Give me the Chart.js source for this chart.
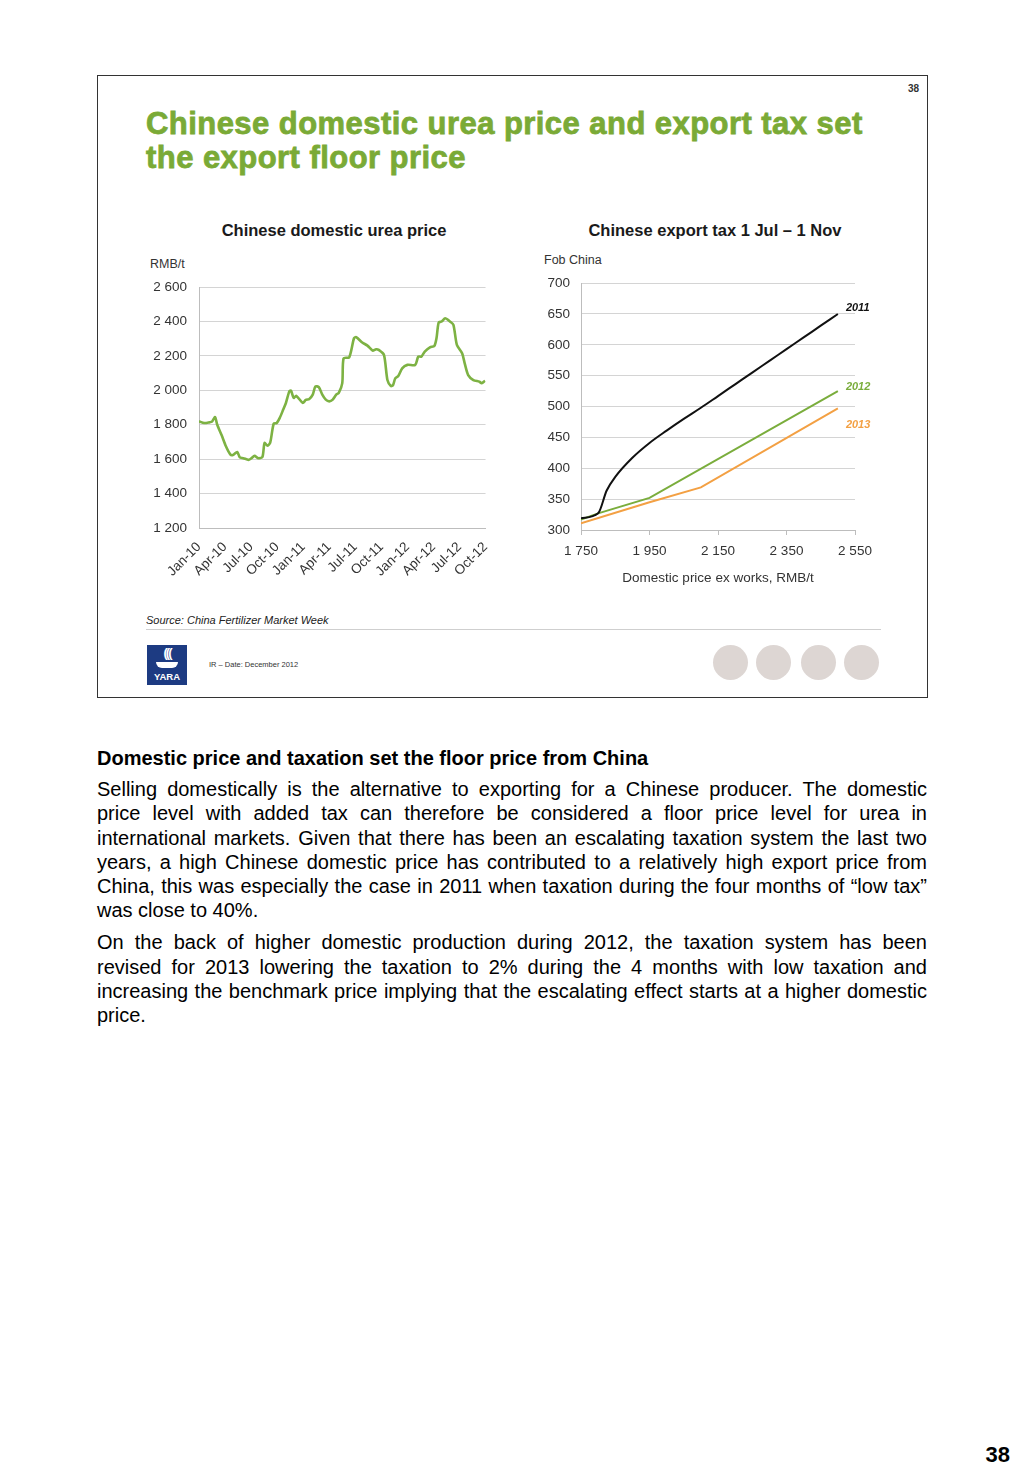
<!DOCTYPE html>
<html lang="en">
<head>
<meta charset="UTF-8">
<title>Chinese domestic urea price and export tax</title>
<script src="https://cdn.jsdelivr.net/npm/chart.js@4.4.1/dist/chart.umd.min.js"></script>
<style>
    body {
        margin: 0;
        width: 1024px;
        height: 1477px;
        position: relative;
        background: #fff;
        font-family: "Liberation Sans", Arial, sans-serif;
        color: #000;
    }
    .slide {
        position: absolute;
        left: 97px;
        top: 75px;
        width: 829px;
        height: 621px;
        border: 1.5px solid #333;
    }
    .abs { position: absolute; white-space: nowrap; }
    .slide-title {
        left: 48px; top: 31px;
        font-size: 31px; font-weight: bold; color: #7aaa36;
        line-height: 34px;
        letter-spacing: 0.45px;
        -webkit-text-stroke: 0.8px #7aaa36;
    }
    .chart-title { font-size: 16.5px; font-weight: bold; color: #1a1a1a; transform: translateX(-50%); }
    .unit { font-size: 12.5px; color: #333; }
    canvas { position: absolute; }
    .source { left: 48px; top: 538px; font-size: 11px; font-style: italic; color: #222; }
    .rule { position: absolute; left: 48px; top: 553px; width: 735px; height: 1px; background: #cfcfcf; }
    .logo { position: absolute; left: 49px; top: 569px; width: 40px; height: 40px; background: #1d3b82; }
    .logo .waves { position: absolute; left: 0; top: 0; width: 40px; text-align: center; color: #fff; font-weight: bold; font-size: 13px; letter-spacing: -2px; }
    .logo .ship { position: absolute; left: 9px; top: 17px; width: 22px; height: 6px; background: #fff; border-radius: 0 0 6px 6px; }
    .logo .name { position: absolute; left: 0; top: 26px; width: 40px; text-align: center; color: #fff; font-weight: bold; font-size: 9.5px; }
    .date { left: 111px; top: 584px; font-size: 7.5px; color: #333; }
    .dot { position: absolute; width: 35px; height: 35px; border-radius: 50%; background: #ddd6d3; top: 569px; }
    .text-block {
        position: absolute; left: 97px; top: 746px; width: 830px;
        font-size: 20px; line-height: 24.2px;
    }
    .text-block h4 { margin: 0 0 7px 0; font-size: 20px; }
    .text-block p { margin: 0 0 8px 0; }
    .text-block .ln { display: block; white-space: nowrap; text-align: justify; text-align-last: justify; }
    .text-block .ln.end { text-align-last: left; }
    .page-no { right: 14px; top: 1442px; font-size: 22px; font-weight: bold; }
</style>
</head>
<body>
<div class="slide">
    <div class="abs" style="right:8px;top:7px;font-size:10px;font-weight:bold;color:#333;">38</div>
    <div class="abs slide-title">Chinese domestic urea price and export tax set<br>the export floor price</div>
    <div class="abs chart-title" style="left:236px;top:145px;">Chinese domestic urea price</div>
    <div class="abs chart-title" style="left:617px;top:145px;">Chinese export tax 1 Jul – 1 Nov</div>
    <div class="abs unit" style="left:52px;top:181px;">RMB/t</div>
    <div class="abs unit" style="left:446px;top:177px;">Fob China</div>
    <div class="abs source">Source: China Fertilizer Market Week</div>
    <div class="rule"></div>
    <div class="logo"><div class="waves">(((</div><div class="ship"></div><div class="name">YARA</div></div>
    <div class="abs date">IR – Date: December 2012</div>
    <div class="dot" style="left:615px;"></div>
    <div class="dot" style="left:658px;"></div>
    <div class="dot" style="left:703px;"></div>
    <div class="dot" style="left:746px;"></div>
</div>

<canvas id="ureaChart" width="360" height="323" style="left:140px;top:267px;width:360px;height:323px;"></canvas>
<canvas id="taxChart" width="355" height="326" style="left:530px;top:264px;width:355px;height:326px;"></canvas>

<div class="text-block">
    <h4>Domestic price and taxation set the floor price from China</h4>
    <p>
        <span class="ln">Selling domestically is the alternative to exporting for a Chinese producer. The domestic</span>
        <span class="ln">price level with added tax can therefore be considered a floor price level for urea in</span>
        <span class="ln">international markets. Given that there has been an escalating taxation system the last two</span>
        <span class="ln">years, a high Chinese domestic price has contributed to a relatively high export price from</span>
        <span class="ln">China, this was especially the case in 2011 when taxation during the four months of “low tax”</span>
        <span class="ln end">was close to 40%.</span>
    </p>
    <p>
        <span class="ln">On the back of higher domestic production during 2012, the taxation system has been</span>
        <span class="ln">revised for 2013 lowering the taxation to 2% during the 4 months with low taxation and</span>
        <span class="ln">increasing the benchmark price implying that the escalating effect starts at a higher domestic</span>
        <span class="ln end">price.</span>
    </p>
</div>
<div class="abs page-no">38</div>

<script>
    // left chart: months since Jan-10 and price RMB/t
    const monthLabels = ['Jan-10', 'Apr-10', 'Jul-10', 'Oct-10', 'Jan-11', 'Apr-11', 'Jul-11', 'Oct-11', 'Jan-12', 'Apr-12', 'Jul-12', 'Oct-12'];
    const ureaMonths = [0, 0.6, 1.2, 1.5, 1.85, 2.1, 2.6, 3.1, 3.6, 3.9, 4.4, 4.7, 5.1, 5.7, 6.0, 6.4, 6.8, 7.3, 7.55, 7.9,
        8.2, 8.6, 8.95, 9.3, 9.7, 10.0, 10.4, 10.6, 10.9, 11.2, 11.95, 12.3, 12.7, 13.1, 13.4, 13.8, 14.2, 14.6, 15.0, 15.4,
        15.8, 16.1, 16.5, 16.65, 17.3, 17.85, 18.1, 18.8, 19.4, 20.0, 20.4, 20.7, 21.3, 21.7, 22.1, 22.35, 22.6, 22.95, 23.4, 24.0,
        24.9, 25.25, 25.6, 26.0, 26.6, 27.1, 27.35, 27.6, 27.95, 28.35, 28.9, 29.3, 29.7, 30.3, 30.6, 31.0, 31.6, 32.3, 32.55, 32.95];
    const ureaPrice = [1820, 1810, 1814, 1818, 1845, 1800, 1740, 1675, 1628, 1624, 1642, 1610, 1606, 1596, 1604, 1619, 1606, 1612, 1694, 1678,
        1696, 1806, 1810, 1840, 1888, 1925, 1994, 1998, 1956, 1968, 1927, 1944, 1950, 1975, 2022, 2019, 1975, 1946, 1936, 1946,
        1975, 1985, 2042, 2186, 2192, 2303, 2309, 2278, 2260, 2231, 2239, 2235, 2206, 2060, 2025, 2031, 2070, 2083, 2128, 2148,
        2148, 2196, 2196, 2225, 2250, 2258, 2303, 2394, 2400, 2419, 2400, 2381, 2264, 2216, 2157, 2089, 2060, 2050, 2041, 2056];

    // right chart: domestic price ex works vs fob China
    const tax2011Domestic = [1750, 1800, 1825, 1850, 1900, 1950, 2000, 2050, 2100, 2150, 2200, 2250, 2300, 2350, 2400, 2450, 2500];
    const tax2011Fob = [319, 327, 364, 386, 417, 441, 461, 480, 498, 517, 536, 555, 574, 593, 612, 631, 650];
    const tax2012Domestic = [1750, 1800, 1950, 2500];
    const tax2012Fob = [317, 327, 352, 525];
    const tax2013Domestic = [1750, 1950, 2100, 2500];
    const tax2013Fob = [311, 345, 369, 497];
    const seriesNames = ['2011', '2012', '2013'];
    const seriesColors = ['#111111', '#7aad3c', '#f3a043'];
    const labelOffsets = [-6, -4, 17];

    const fontFamily = '"Liberation Sans", Arial, sans-serif';
    const tickFont = { family: fontFamily, size: 13.5 };
    const spaced = v => String(v).replace(/\B(?=(\d{3})+(?!\d))/g, ' ');
    const toPoints = (xs, ys) => xs.map((x, i) => ({ x: x, y: ys[i] }));

    new Chart(document.getElementById('ureaChart'), {
        type: 'line',
        data: {
            datasets: [{
                data: toPoints(ureaMonths, ureaPrice),
                borderColor: '#7db243',
                borderWidth: 2.6,
                pointRadius: 0,
                tension: 0.25
            }]
        },
        options: {
            responsive: false,
            animation: false,
            layout: { padding: { top: 2, right: 3 } },
            plugins: { legend: { display: false }, tooltip: { enabled: false } },
            scales: {
                x: {
                    type: 'linear', min: 0, max: 33,
                    afterBuildTicks: s => { s.ticks = monthLabels.map((l, i) => ({ value: i * 3 })); },
                    afterFit: s => { s.height = 62; },
                    grid: { display: false },
                    border: { color: '#bdbdbd' },
                    ticks: {
                        font: tickFont, color: '#333', maxRotation: 45, minRotation: 45, padding: 3, autoSkip: false,
                        callback: v => monthLabels[Math.round(v / 3)]
                    }
                },
                y: {
                    min: 1200, max: 2600,
                    afterFit: s => { s.width = 59; },
                    grid: { color: '#d4d4d4', drawTicks: false },
                    border: { color: '#bdbdbd' },
                    ticks: { stepSize: 200, font: tickFont, color: '#333', padding: 12, callback: v => spaced(v) }
                }
            }
        }
    });

    const endLabels = {
        id: 'endLabels',
        afterDatasetsDraw(chart) {
            const ctx = chart.ctx;
            ctx.save();
            ctx.font = 'italic bold 11px ' + fontFamily;
            ctx.textBaseline = 'middle';
            chart.data.datasets.forEach((ds, i) => {
                const last = ds.data[ds.data.length - 1];
                const x = chart.scales.x.getPixelForValue(last.x);
                const y = chart.scales.y.getPixelForValue(last.y);
                ctx.fillStyle = seriesColors[i];
                ctx.fillText(seriesNames[i], x + 8, y + labelOffsets[i]);
            });
            ctx.restore();
        }
    };

    new Chart(document.getElementById('taxChart'), {
        type: 'line',
        data: {
            datasets: [
                { label: seriesNames[0], data: toPoints(tax2011Domestic, tax2011Fob), borderColor: seriesColors[0], borderWidth: 2, pointRadius: 0, cubicInterpolationMode: 'monotone' },
                { label: seriesNames[1], data: toPoints(tax2012Domestic, tax2012Fob), borderColor: seriesColors[1], borderWidth: 2, pointRadius: 0, tension: 0 },
                { label: seriesNames[2], data: toPoints(tax2013Domestic, tax2013Fob), borderColor: seriesColors[2], borderWidth: 2, pointRadius: 0, tension: 0 }
            ]
        },
        options: {
            responsive: false,
            animation: false,
            layout: { padding: { top: 2, right: 30 } },
            plugins: { legend: { display: false }, tooltip: { enabled: false } },
            scales: {
                x: {
                    type: 'linear', min: 1750, max: 2550,
                    afterFit: s => { s.height = 60; },
                    grid: { drawOnChartArea: false, color: '#bdbdbd', tickLength: 5 },
                    border: { color: '#bdbdbd' },
                    ticks: { stepSize: 200, font: tickFont, color: '#333', padding: 8, maxRotation: 0, callback: v => spaced(v) },
                    title: { display: true, text: 'Domestic price ex works, RMB/t', font: { family: fontFamily, size: 13.5 }, color: '#333', padding: { top: 2 } }
                },
                y: {
                    min: 300, max: 700,
                    afterFit: s => { s.width = 51; },
                    grid: { color: '#d4d4d4', drawTicks: false },
                    border: { color: '#bdbdbd' },
                    ticks: { stepSize: 50, font: tickFont, color: '#333', padding: 11 }
                }
            }
        },
        plugins: [endLabels]
    });
</script>
</body>
</html>
